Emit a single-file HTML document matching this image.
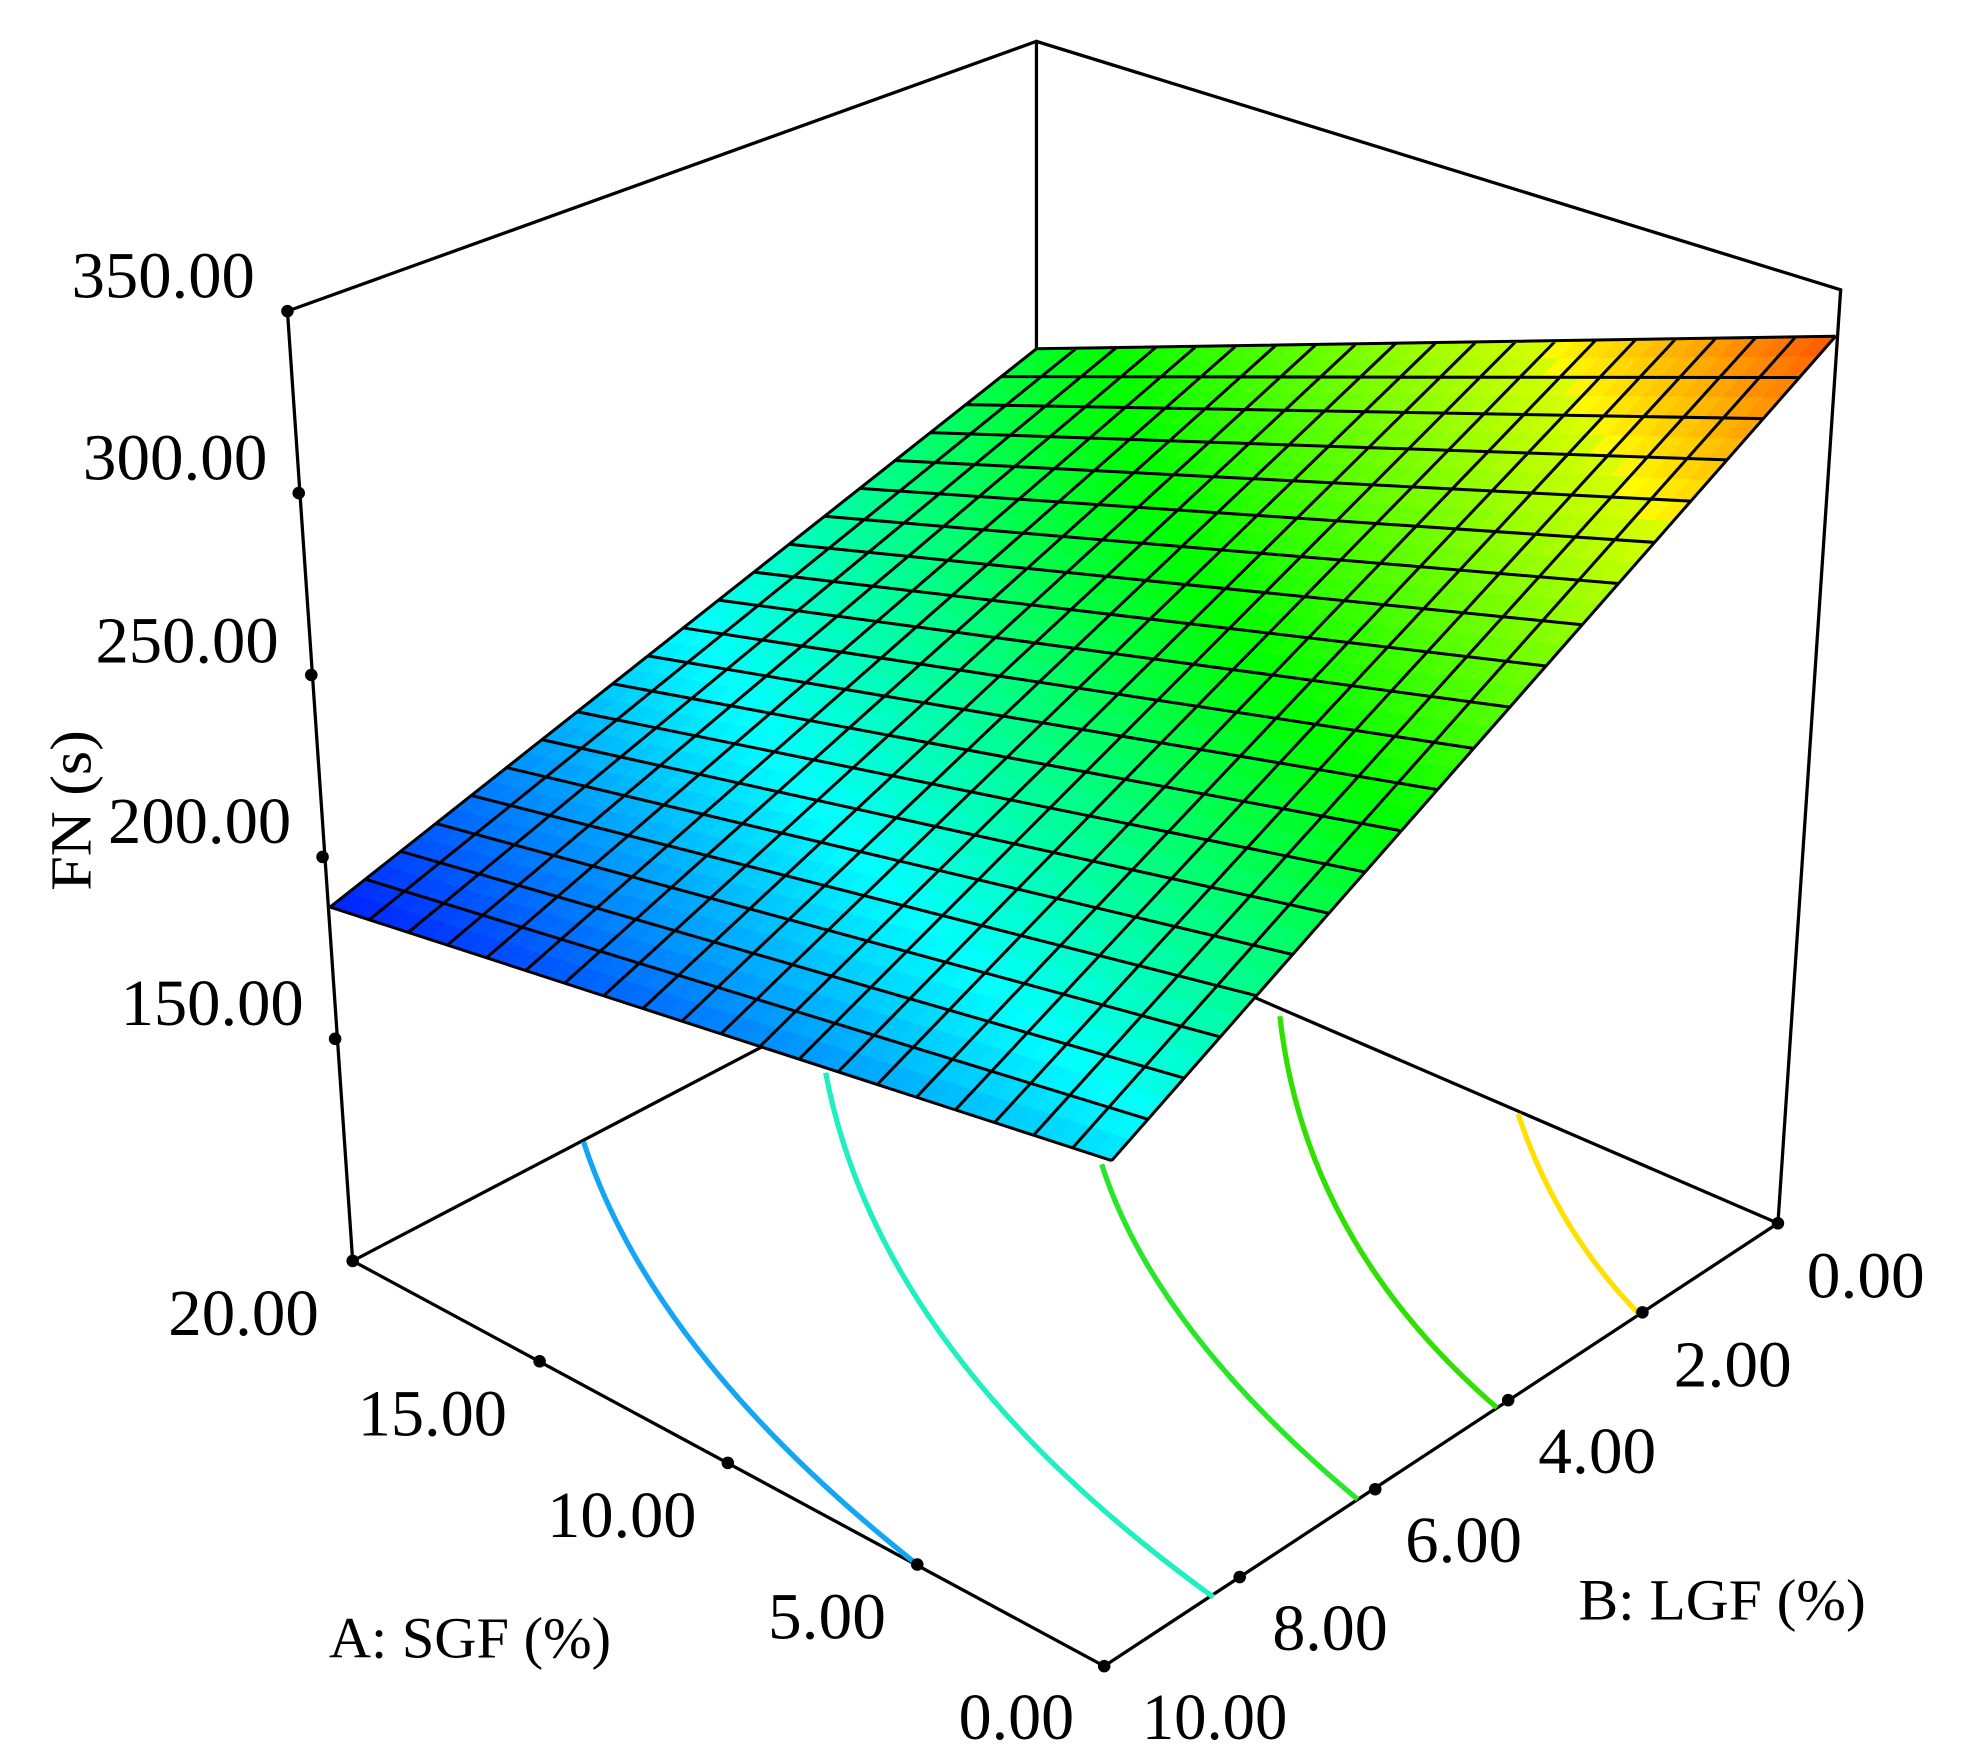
<!DOCTYPE html>
<html><head><meta charset="utf-8"><style>
html,body{margin:0;padding:0;background:#fff;}
svg{display:block;}
text{font-family:"Liberation Serif",serif;fill:#000;}
</style></head><body>
<svg id="s" width="1965" height="1764" viewBox="0 0 1566 1406" xmlns="http://www.w3.org/2000/svg">
<g stroke="#000" stroke-width="2.6" fill="none" stroke-linecap="round">
<path d="M229,248 L826,33 L1467,231"/>
<path d="M826,33 L826,720"/>
<path d="M281,1005 L826,720 L1417,975"/>
<path d="M229,248 L281,1005"/>
<path d="M1467,231 L1417,975"/>
<path d="M281,1005 L880,1328 L1417,975"/>
</g>
<g fill="none" stroke-width="4.2">
<path d="M465,910 Q520,1080 731,1247" stroke="#14a6f5"/>
<path d="M658,855 Q700,1080 967,1273" stroke="#20f0c0"/>
<path d="M878,928 Q920,1060 1082,1195" stroke="#28e628"/>
<path d="M1020,810 Q1040,990 1193,1122" stroke="#30e000"/>
<path d="M1210,888 Q1240,980 1307,1048" stroke="#ffe000"/>
</g>
<g fill="#000">
<circle cx="229" cy="248" r="5"/><circle cx="238" cy="393" r="5"/><circle cx="248" cy="538" r="5"/><circle cx="257" cy="683" r="5"/><circle cx="267" cy="828" r="5"/>
<circle cx="281" cy="1005" r="5"/><circle cx="430" cy="1085" r="5"/><circle cx="580" cy="1166" r="5"/><circle cx="731" cy="1247" r="5"/><circle cx="880" cy="1328" r="5"/>
<circle cx="988" cy="1257" r="5"/><circle cx="1096" cy="1187" r="5"/><circle cx="1202" cy="1116" r="5"/><circle cx="1309" cy="1046" r="5"/><circle cx="1417" cy="975" r="5"/>
</g>
<g id="surf"></g>
<g font-size="52">
<text x="57" y="237" textLength="146" lengthAdjust="spacingAndGlyphs">350.00</text>
<text x="66" y="382" textLength="147" lengthAdjust="spacingAndGlyphs">300.00</text>
<text x="76" y="528" textLength="146" lengthAdjust="spacingAndGlyphs">250.00</text>
<text x="86" y="672" textLength="146" lengthAdjust="spacingAndGlyphs">200.00</text>
<text x="96" y="817" textLength="146" lengthAdjust="spacingAndGlyphs">150.00</text>
<text x="134" y="1064" textLength="120" lengthAdjust="spacingAndGlyphs">20.00</text>
<text x="285" y="1144" textLength="119" lengthAdjust="spacingAndGlyphs">15.00</text>
<text x="436" y="1225" textLength="119" lengthAdjust="spacingAndGlyphs">10.00</text>
<text x="612" y="1306" textLength="94" lengthAdjust="spacingAndGlyphs">5.00</text>
<text x="764" y="1386" textLength="92" lengthAdjust="spacingAndGlyphs">0.00</text>
<text x="910" y="1386" textLength="116" lengthAdjust="spacingAndGlyphs">10.00</text>
<text x="1014" y="1315" textLength="92" lengthAdjust="spacingAndGlyphs">8.00</text>
<text x="1120" y="1245" textLength="93" lengthAdjust="spacingAndGlyphs">6.00</text>
<text x="1226" y="1174" textLength="94" lengthAdjust="spacingAndGlyphs">4.00</text>
<text x="1334" y="1105" textLength="94" lengthAdjust="spacingAndGlyphs">2.00</text>
<text x="1440" y="1034" textLength="94" lengthAdjust="spacingAndGlyphs">0.00</text>
</g>
<g font-size="46">
<text x="262" y="1321" textLength="225" lengthAdjust="spacingAndGlyphs">A: SGF (%)</text>
<text x="1258" y="1291" textLength="229" lengthAdjust="spacingAndGlyphs">B: LGF (%)</text>
<text transform="translate(72,710) rotate(-90)" textLength="128" lengthAdjust="spacingAndGlyphs">FN (s)</text>
</g>
</svg>
<script>
(function(){
var R=[1463,268],B=[826,278],F=[886,925],L=[263,723];
function P(a,b){return [(1-a)*(1-b)*R[0]+a*(1-b)*B[0]+(1-a)*b*F[0]+a*b*L[0],(1-a)*(1-b)*R[1]+a*(1-b)*B[1]+(1-a)*b*F[1]+a*b*L[1]];}
function T(a,b){return 0.92*(1-a)*(1-b)+0.46*a*(1-b)+0.22*(1-a)*b+0.03*a*b;}
var st=[[0,[0,0,255]],[0.25,[0,255,255]],[0.5,[0,255,0]],[0.75,[255,255,0]],[1,[255,0,0]]];
function C(t){t=Math.max(0,Math.min(1,t));
 if(t>0.5&&t<0.75){t=0.5+(t-0.5)*0.85;}
 for(var i=0;i<4;i++){if(t<=st[i+1][0]){var u=(t-st[i][0])/0.25,c0=st[i][1],c1=st[i+1][1];return 'rgb('+[0,1,2].map(function(k){return Math.round(c0[k]+(c1[k]-c0[k])*u)}).join(',')+')';}}return 'rgb(255,0,0)';}
var N=40,h='';
for(var i=0;i<N;i++)for(var j=0;j<N;j++){var a0=i/N,a1=(i+1)/N,b0=j/N,b1=(j+1)/N;
var p=[P(a0,b0),P(a1,b0),P(a1,b1),P(a0,b1)];var col=C(T((a0+a1)/2,(b0+b1)/2));
h+='<polygon points="'+p.map(function(q){return q[0].toFixed(1)+','+q[1].toFixed(1)}).join(' ')+'" fill="'+col+'" stroke="'+col+'" stroke-width="0.8"/>';}
var M=20,d='';
for(var k=0;k<=M;k++){var s=k/M,p1=P(s,0),p2=P(s,1),p3=P(0,s),p4=P(1,s);
d+='M'+p1[0].toFixed(1)+','+p1[1].toFixed(1)+'L'+p2[0].toFixed(1)+','+p2[1].toFixed(1);
d+='M'+p3[0].toFixed(1)+','+p3[1].toFixed(1)+'L'+p4[0].toFixed(1)+','+p4[1].toFixed(1);}
h+='<path d="'+d+'" stroke="#000" stroke-width="2.4" fill="none"/>';
document.getElementById('surf').innerHTML=h;
})();
</script>
</body></html>
